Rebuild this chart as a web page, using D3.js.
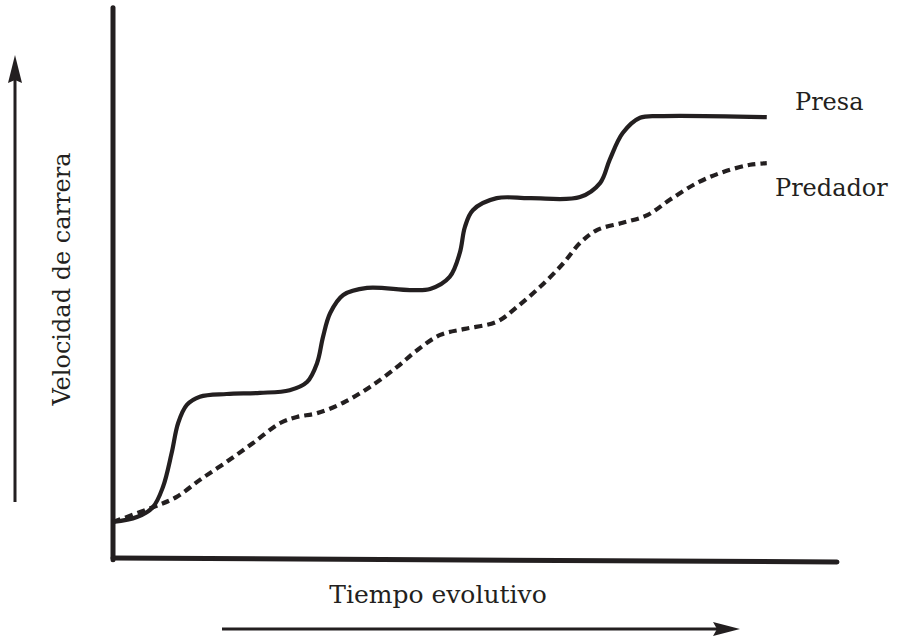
<!DOCTYPE html>
<html><head><meta charset="utf-8">
<script src="https://cdn.jsdelivr.net/npm/d3@7"></script>
<style>body{margin:0;background:#fff}svg{display:block}</style>
</head><body>
<svg id="chart" width="898" height="641"></svg>
<script>
// Data: evolutionary time (t) vs running speed (v), arbitrary units
const presaT = [0,3.3,5.5,6.9,8.1,9.0,10.2,12.0,15.7,20.3,24.4,26.8,28.2,29.0,30.0,31.8,35.1,41.0,43.8,46.5,47.9,48.6,49.7,53.0,57.6,64.5,67.3,68.6,70.4,72.8,76.0,90.3];
const presaV = [6.4,7.3,9.1,12.8,19.0,24.5,27.8,29.3,29.8,30.0,30.5,32.0,35.5,40.2,44.6,47.9,49.2,48.8,49.0,51.2,55.6,60.3,63.4,65.6,65.6,65.8,68.4,72.6,77.5,80.3,80.6,80.4];
const predT = [0,5.5,8.8,12.0,15.7,19.3,23.1,25.4,28.2,31.8,35.5,39.2,42.0,45.2,48.6,53.0,55.8,59.0,62.2,64.5,66.9,70.4,73.8,76.9,80.7,84.3,88.0,90.3];
const predV = [6.4,9.1,11.0,14.1,17.4,20.8,24.5,25.6,26.3,28.2,31.1,34.7,37.8,40.6,41.7,43.0,45.7,49.4,53.7,57.4,59.8,61.1,62.5,65.3,68.4,70.4,71.7,72.0];
const seriesNames = ["Presa", "Predador"];
const xTitle = "Tiempo evolutivo";
const yTitle = "Velocidad de carrera";

const svg = d3.select("#chart");
const ink = "#231f20";
const font = "'DejaVu Serif', serif";

const x = d3.scaleLinear().domain([0, 100]).range([113, 837]);
const y = d3.scaleLinear().domain([0, 100]).range([557, 10]);

// Axes (plain lines, no ticks)
svg.append("line").attr("x1", x(0)).attr("x2", x(0)).attr("y1", y(100.4)).attr("y2", y(-0.5))
  .attr("stroke", ink).attr("stroke-width", 5).attr("stroke-linecap", "round");
svg.append("line").attr("x1", x(0)).attr("x2", x(100)).attr("y1", y(-0.2)).attr("y2", y(-0.9))
  .attr("stroke", ink).attr("stroke-width", 5).attr("stroke-linecap", "round");

const line = d3.line().x(d => x(d[0])).y(d => y(d[1])).curve(d3.curveCatmullRom.alpha(0.5));

const presa = presaT.map((t, i) => [t, presaV[i]]);
const pred = predT.map((t, i) => [t, predV[i]]);

svg.append("path").attr("d", line(pred)).attr("fill", "none").attr("stroke", ink)
  .attr("stroke-width", 4.2).attr("stroke-dasharray", "8,5");
svg.append("path").attr("d", line(presa)).attr("fill", "none").attr("stroke", ink)
  .attr("stroke-width", 4.2);

// Series labels
svg.append("text").attr("x", 795).attr("y", 110).text(seriesNames[0])
  .attr("font-family", font).attr("font-size", 24).attr("fill", ink);
svg.append("text").attr("x", 775).attr("y", 196).text(seriesNames[1])
  .attr("font-family", font).attr("font-size", 24).attr("fill", ink);

// Axis titles
svg.append("text").attr("x", 438).attr("y", 603).attr("text-anchor", "middle").text(xTitle)
  .attr("font-family", font).attr("font-size", 25).attr("fill", ink);
svg.append("text").attr("transform", "translate(70,279) rotate(-90)").attr("text-anchor", "middle").text(yTitle)
  .attr("font-family", font).attr("font-size", 24).attr("fill", ink);

// Arrows
svg.append("line").attr("x1", 15).attr("x2", 15).attr("y1", 502).attr("y2", 78)
  .attr("stroke", ink).attr("stroke-width", 3);
svg.append("path").attr("d", "M15,55 L8,83 L15,80 L22,83 Z").attr("fill", ink);
svg.append("line").attr("x1", 222).attr("x2", 718).attr("y1", 629).attr("y2", 629)
  .attr("stroke", ink).attr("stroke-width", 3);
svg.append("path").attr("d", "M740,629 L713,622 L717,629 L713,636 Z").attr("fill", ink);
</script>
</body></html>
